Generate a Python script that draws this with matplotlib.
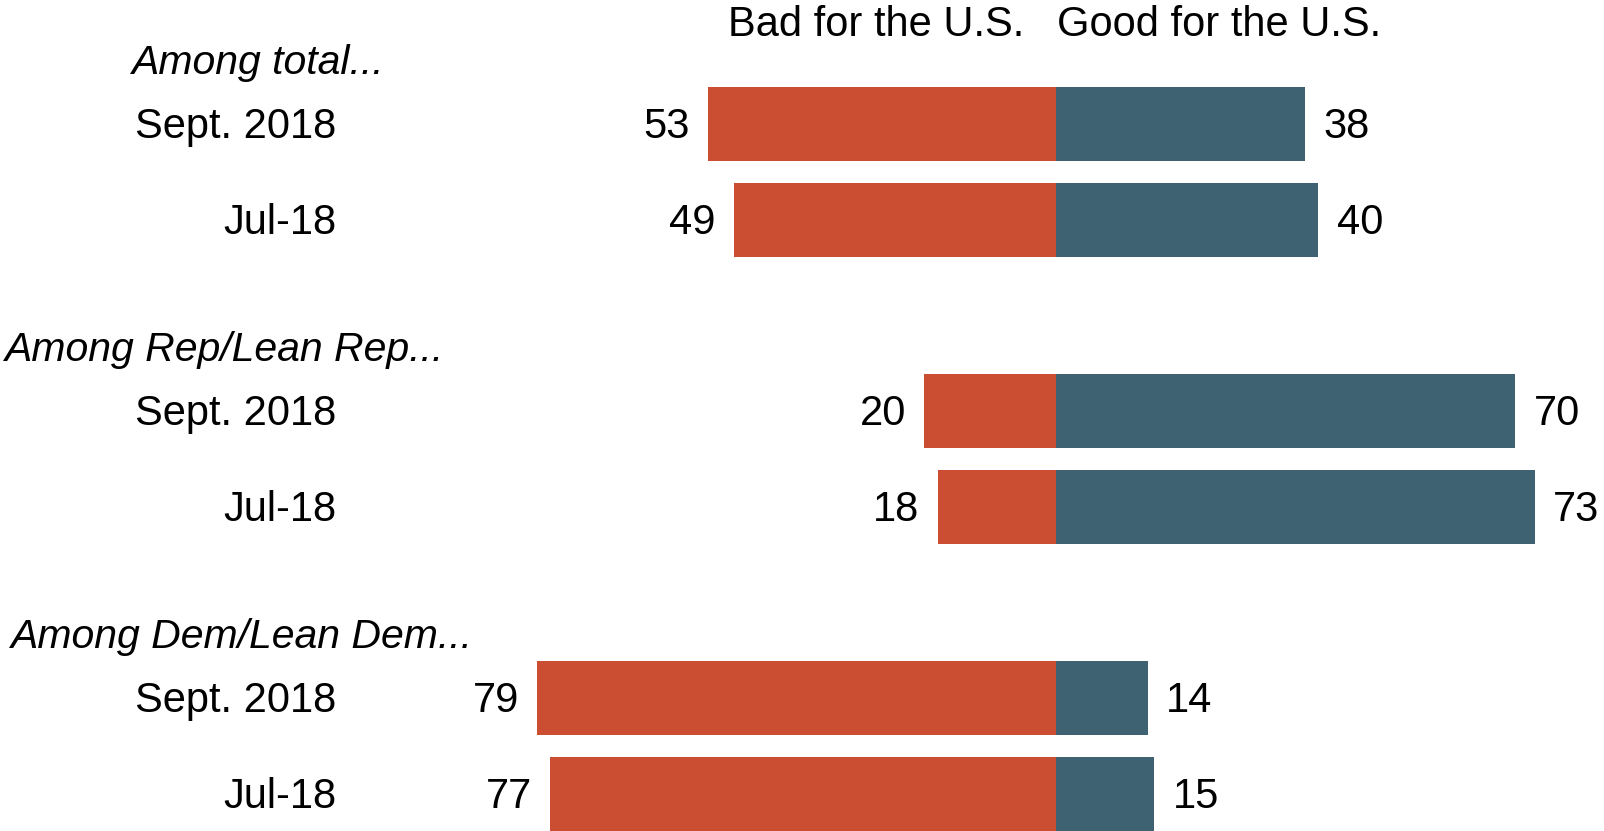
import matplotlib
matplotlib.use("Agg")
import matplotlib.pyplot as plt

# ---- data ----
groups = ["Among total...", "Among Rep/Lean Rep...", "Among Dem/Lean Dem..."]
periods = ["Sept. 2018", "Jul-18"]
bad = [[53, 49], [20, 18], [79, 77]]
good = [[38, 40], [70, 73], [14, 15]]
col_headers = ["Bad for the U.S.", "Good for the U.S."]

# ---- style / layout ----
RED = "#CC4E32"
BLUE = "#3F6273"
FONT = ["Liberation Sans", "DejaVu Sans"]
plt.rcParams["font.family"] = FONT
FS = 30
FS_H = 29.5

W, H, DPI = 1604, 831, 100
fig = plt.figure(figsize=(W / DPI, H / DPI), dpi=DPI)
ax = fig.add_axes([0, 0, 1, 1])

center_px = 1055.7
unit_px = 6.562
ax.set_xlim(-center_px / unit_px, (W - center_px) / unit_px)
ax.set_ylim(H, 0)
ax.axis("off")

def px_to_x(px):
    return (px - center_px) / unit_px

g0, gstep, rstep = 123.8, 287.0, 96.0
bar_h = 73.6
header_dy = -63.5
header_x_px = [131, 4, 10]
label_right_px = 336
pad = 18.5 / unit_px
tdy = 3.0

for gi, g in enumerate(groups):
    gy = g0 + gi * gstep
    ax.text(px_to_x(header_x_px[gi]), gy + header_dy + tdy, g, fontsize=FS_H, style="italic",
            ha="left", va="center")
    for ri, p in enumerate(periods):
        y = gy + ri * rstep
        b = bad[gi][ri]
        gd = good[gi][ri]
        ax.barh(y, -b, height=bar_h, color=RED, left=0, linewidth=0)
        ax.barh(y, gd, height=bar_h, color=BLUE, left=0, linewidth=0)
        ax.text(px_to_x(label_right_px), y + tdy, p, fontsize=FS, ha="right", va="center")
        ax.text(-b - pad, y + tdy, str(b), fontsize=FS, ha="right", va="center")
        ax.text(gd + pad, y + tdy, str(gd), fontsize=FS, ha="left", va="center")

ax.text(px_to_x(1024), 25.0, col_headers[0], fontsize=FS, ha="right", va="center")
ax.text(px_to_x(1057), 25.0, col_headers[1], fontsize=FS, ha="left", va="center")

fig.savefig("out.png", dpi=DPI)
